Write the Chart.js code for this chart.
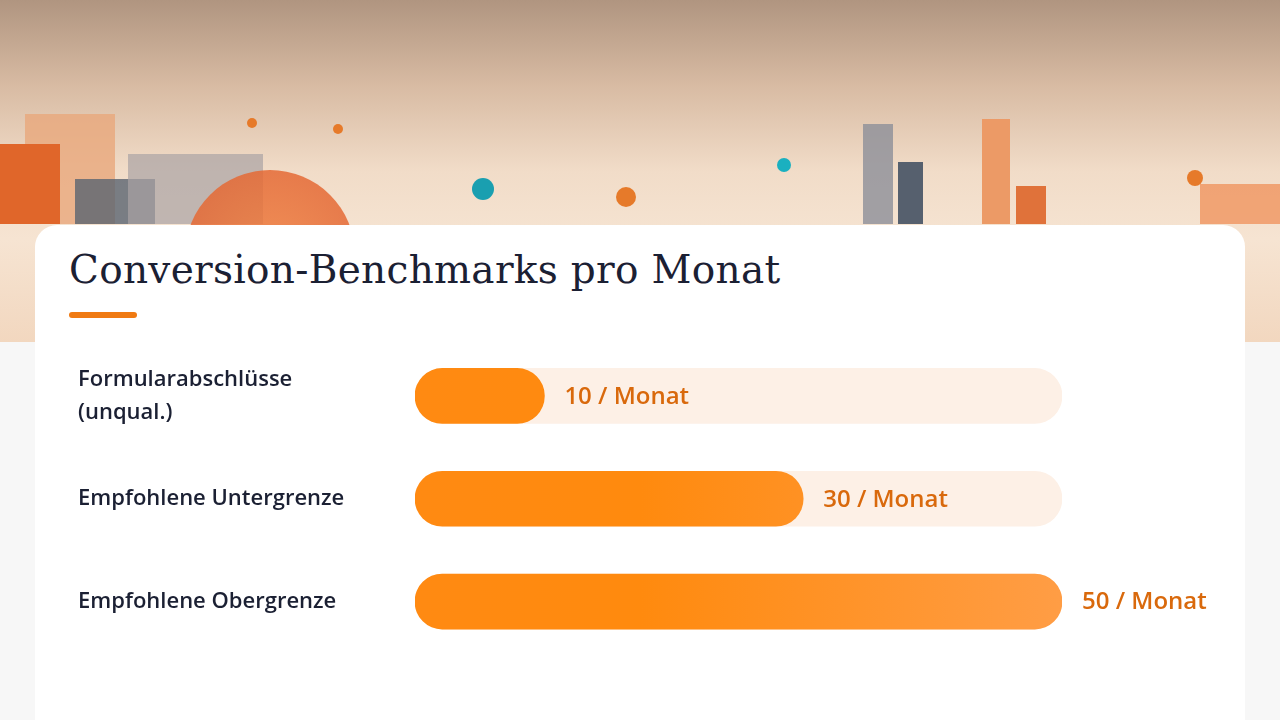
<!DOCTYPE html>
<html>
<head>
<meta charset="utf-8">
<script src="https://cdn.jsdelivr.net/npm/chart.js@4"></script>
<style>
  html, body { margin: 0; padding: 0; }
  body {
    width: 1280px; height: 720px; overflow: hidden; position: relative;
    background: #f7f7f7; font-family: "Open Sans", sans-serif;
  }
  .hero {
    position: absolute; left: 0; top: 0; width: 1280px; height: 342px;
    background: linear-gradient(180deg, #b09580 0%, #d8bba3 25%, #f1dcc8 50%, #f6e4d2 70%, #f2d7bf 100%);
    overflow: hidden;
  }
  .b { position: absolute; bottom: 118px; }
  .dot { position: absolute; border-radius: 50%; }
  .card {
    position: absolute; left: 35px; top: 225px; width: 1210px; height: 520px;
    background: #fff; border-radius: 22px;
  }
  h1 {
    position: absolute; left: 69px; top: 247px; margin: 0;
    font-family: "DejaVu Serif", serif; font-weight: normal; font-size: 39px;
    color: #1b2033; letter-spacing: 0.3px;
  }
  .bar-u { position: absolute; left: 69px; top: 312px; width: 68px; height: 6px; border-radius: 3px; background: #f07a12; }
  #wrap { position: absolute; left: 35px; top: 328px; width: 1210px; height: 358px; }
</style>
</head>
<body>
<div class="hero">
  <div class="b" style="left:25px;width:90px;height:110px;background:#e8a77c;opacity:.8"></div>
  <div class="b" style="left:0;width:60px;height:80px;background:#e0662a"></div>
  <div class="b" style="left:75px;width:80px;height:45px;background:#5a6470;opacity:.8"></div>
  <div class="b" style="left:128px;width:135px;height:70px;background:#a9a3a4;opacity:.7"></div>
  <div class="dot" style="left:185px;top:170px;width:170px;height:170px;background:radial-gradient(#f08040,#e06030);opacity:.85"></div>
  <div class="b" style="left:863px;width:30px;height:100px;background:#8c8f99;opacity:.8"></div>
  <div class="b" style="left:898px;width:25px;height:62px;background:#56606e"></div>
  <div class="b" style="left:982px;width:28px;height:105px;background:#ec9a66"></div>
  <div class="b" style="left:1016px;width:30px;height:38px;background:#e0723a"></div>
  <div class="b" style="left:1200px;width:80px;height:40px;background:#f08a50;opacity:.7"></div>
  <div class="dot" style="left:472px;top:178px;width:22px;height:22px;background:#1a9fb0"></div>
  <div class="dot" style="left:616px;top:187px;width:20px;height:20px;background:#e67a2a"></div>
  <div class="dot" style="left:777px;top:158px;width:14px;height:14px;background:#1ab0c0"></div>
  <div class="dot" style="left:1187px;top:170px;width:16px;height:16px;background:#e67a2a"></div>
  <div class="dot" style="left:247px;top:118px;width:10px;height:10px;background:#e67a2a"></div>
  <div class="dot" style="left:333px;top:124px;width:10px;height:10px;background:#e67a2a"></div>
</div>
<div class="card"></div>
<h1>Conversion-Benchmarks pro Monat</h1>
<div class="bar-u"></div>
<div id="wrap"><canvas id="c"></canvas></div>
<script>
// --- Data ---
const categories = [['Formularabschlüsse', '(unqual.)'], 'Empfohlene Untergrenze', 'Empfohlene Obergrenze'];
const values = [10, 30, 50];
const trackValues = [50, 50, 50];
const maxValue = 50;
const unitLabel = ' / Monat';

/**
 * Writes "xx / Monat" right of each bar
 */
const valueLabels = {
    id: 'valueLabels',
    afterDatasetsDraw(chart) {
        const ctx = chart.ctx;
        const meta = chart.getDatasetMeta(1);
        ctx.save();
        ctx.font = '600 24px "Open Sans", sans-serif';
        ctx.fillStyle = '#d9690c';
        ctx.textBaseline = 'middle';
        meta.data.forEach((bar, i) => {
            ctx.fillText(values[i] + unitLabel, bar.x + 20, bar.y + 1);
        });
        ctx.restore();
    }
};

function barGradient(context) {
    const area = context.chart.chartArea;
    if (!area) return '#ff8a1f';
    const g = context.chart.ctx.createLinearGradient(area.left, 0, area.right, 0);
    g.addColorStop(0, '#ff8a12');
    g.addColorStop(0.35, '#ff8a0e');
    g.addColorStop(1, '#ff9d45');
    return g;
}

new Chart(document.getElementById('c'), {
    type: 'bar',
    data: {
        labels: categories,
        datasets: [
            {
                data: trackValues,
                backgroundColor: '#fdf0e6',
                borderRadius: 28,
                borderSkipped: false,
                barThickness: 55,
                grouped: false,
                order: 2
            },
            {
                data: values,
                backgroundColor: barGradient,
                borderRadius: 28,
                borderSkipped: false,
                barThickness: 55,
                grouped: false,
                order: 1
            }
        ]
    },
    options: {
        indexAxis: 'y',
        responsive: true,
        maintainAspectRatio: false,
        animation: false,
        layout: { padding: { left: 43, right: 183, top: 4, bottom: 27 } },
        plugins: { legend: { display: false }, tooltip: { enabled: false } },
        scales: {
            x: { display: false, min: 0, max: maxValue },
            y: {
                grid: { display: false },
                border: { display: false },
                afterFit(scale) { scale.width = 337; },
                ticks: {
                    crossAlign: 'far',
                    color: '#1b2033',
                    padding: 0,
                    font: { family: '"Open Sans", sans-serif', size: 22, weight: '600', lineHeight: 1.5 }
                }
            }
        }
    },
    plugins: [valueLabels]
});
</script>
</body>
</html>
